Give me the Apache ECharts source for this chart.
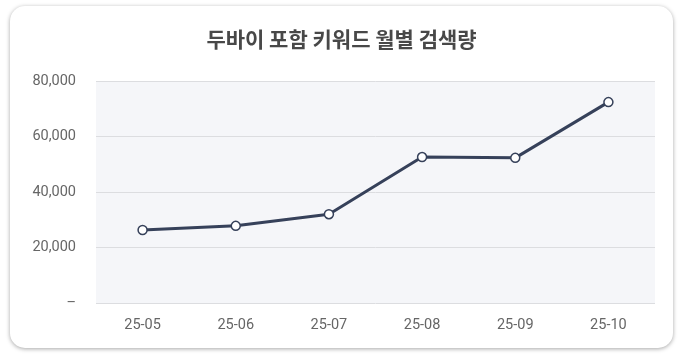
<!DOCTYPE html>
<html>
<head>
<meta charset="utf-8">
<script src="https://cdn.jsdelivr.net/npm/echarts@6/dist/echarts.min.js"></script>
<style>
html,body{margin:0;padding:0;background:#fff;width:683px;height:361px;overflow:hidden;}
#card{position:absolute;left:10px;top:6px;width:663px;height:342px;border-radius:15px;background:#fff;box-shadow:0 1px 4px rgba(0,0,0,0.35);}
#chart{position:absolute;left:0;top:0;width:683px;height:361px;}
</style>
</head>
<body>
<div id="card"></div>
<div id="chart"></div>
<script>
const title = '두바이 포함 키워드 월별 검색량';
const categories = ['25-05','25-06','25-07','25-08','25-09','25-10'];
const values = [26300, 27800, 32000, 52600, 52300, 72400];
const yTicks = [0, 20000, 40000, 60000, 80000];

const chart = echarts.init(document.getElementById('chart'), null, {renderer:'canvas'});
const titleFont = '"Noto Sans CJK KR", "Noto Sans", sans-serif';
const labelFont = 'Roboto, "Noto Sans", sans-serif';
chart.setOption({
  backgroundColor: 'transparent',
  animation: false,
  title: {
    text: title, left: 'center', top: 24,
    textStyle: {fontFamily: titleFont, fontSize: 21, fontWeight: 'bold', color: '#484848'}
  },
  grid: {
    left: 96, right: 28, top: 81, bottom: 58,
    show: true, backgroundColor: '#f5f6f9', borderWidth: 0
  },
  xAxis: {
    type: 'category', data: categories, boundaryGap: true,
    axisLine: {show: false}, axisTick: {show: false},
    axisLabel: {fontFamily: labelFont, fontSize: 14.5, color: '#666', margin: 15}
  },
  yAxis: {
    type: 'value', min: yTicks[0], max: yTicks[yTicks.length-1], interval: 20000,
    axisLine: {show: false}, axisTick: {show: false},
    splitLine: {lineStyle: {color: '#dcdde0', width: 1}},
    axisLabel: {
      fontFamily: labelFont, fontSize: 14.5, color: '#666', margin: 20,
      formatter: v => v === 0 ? '–' : v.toLocaleString('en-US')
    }
  },
  series: [{
    type: 'line', data: values,
    lineStyle: {color: '#36415a', width: 3},
    itemStyle: {color: '#fff', borderColor: '#36415a', borderWidth: 1.5},
    symbol: 'circle', symbolSize: 9, showSymbol: true
  }]
});
</script>
</body>
</html>
